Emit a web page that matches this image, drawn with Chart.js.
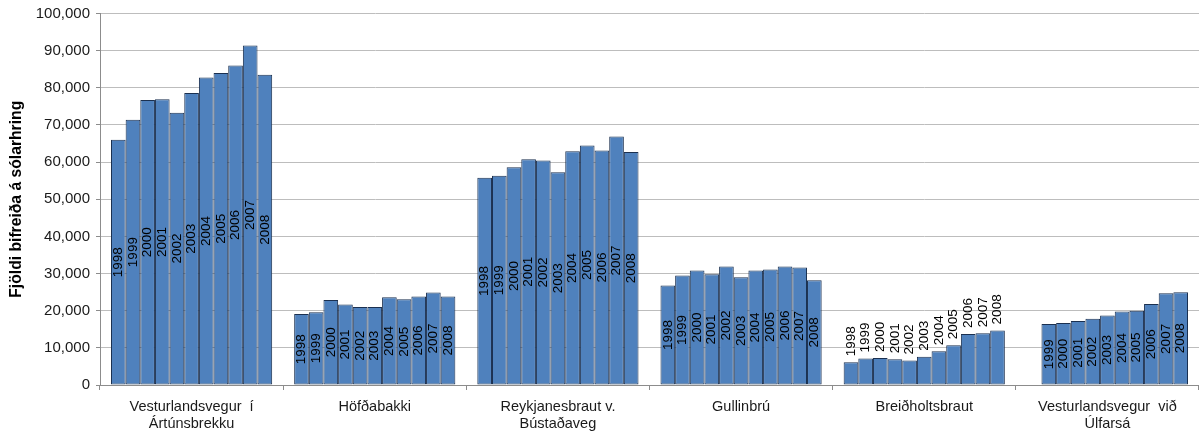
<!DOCTYPE html>
<html>
<head>
<meta charset="utf-8">
<script src="https://cdn.jsdelivr.net/npm/chart.js@4/dist/chart.umd.min.js"></script>
<style>
  html, body { margin: 0; padding: 0; background: #ffffff; }
  #wrap { width: 1199px; height: 432px; }
</style>
</head>
<body>
<div id="wrap"><canvas id="chart" width="1199" height="432"></canvas></div>
<script>
// Talningarstaðir (flokkar á x-ás)
const locations = [
  ['Vesturlandsvegur  í', 'Ártúnsbrekku'],
  'Höfðabakki',
  ['Reykjanesbraut v.', 'Bústaðaveg'],
  'Gullinbrú',
  'Breiðholtsbraut',
  ['Vesturlandsvegur  við', 'Úlfarsá']
];

const years = ['1998', '1999', '2000', '2001', '2002', '2003', '2004', '2005', '2006', '2007', '2008'];

// Fjöldi bifreiða á sólarhring, eitt gildi á ári (1998–2008)
const vesturlandsvegurArtunsbrekku = [66000, 71400, 76700, 76900, 73300, 78600, 82800, 84000, 86000, 91400, 83500];
const hofdabakki                   = [19100, 19600, 22900, 21700, 21000, 21000, 23600, 23100, 23800, 24900, 23800];
const reykjanesbraut               = [55800, 56300, 58600, 60800, 60400, 57300, 62900, 64500, 63100, 66900, 62700];
const gullinbru                    = [26800, 29500, 30800, 29800, 31900, 29000, 30800, 31100, 31900, 31600, 28200];
const breidholtsbraut              = [6100, 7100, 7300, 6900, 6600, 7600, 9100, 10700, 13700, 13900, 14700];
const vesturlandsvegurUlfarsa      = [null, 16400, 16700, 17200, 17800, 18700, 19800, 20000, 21800, 24700, 25000];

const seriesByLocation = [
  vesturlandsvegurArtunsbrekku, hofdabakki, reykjanesbraut,
  gullinbru, breidholtsbraut, vesturlandsvegurUlfarsa
];

// y-ás: 0 til 100.000 í 10.000 skrefum
const yMin = 0;
const yMax = 100000;
const yStep = 10000;

// Staðir þar sem ártal er skrifað ofan við súluna í stað inni í henni
const labelsAboveBars = ['Breiðholtsbraut'];

const FONT = "'Liberation Sans', Arial, sans-serif";

// Ein gagnaröð á ári; hver röð hefur eitt gildi fyrir hvern stað
const datasets = years.map((year, yi) => ({
  label: year,
  data: seriesByLocation.map(s => s[yi]),
  backgroundColor: '#4f81bd',
  borderColor: '#1b3050',
  borderWidth: 1,
  borderSkipped: false,
  categoryPercentage: 0.88,
  barPercentage: 1.0
}));

// Ártöl sem lóðréttur texti á súlunum
const yearLabelPlugin = {
  id: 'yearLabels',
  afterDatasetsDraw(chart) {
    const ctx = chart.ctx;
    ctx.save();
    ctx.font = '13.5px ' + FONT;
    ctx.fillStyle = '#000000';
    chart.data.datasets.forEach((ds, di) => {
      const meta = chart.getDatasetMeta(di);
      meta.data.forEach((bar, ci) => {
        const v = ds.data[ci];
        if (v === null || v === undefined) return;
        const loc = chart.data.labels[ci];
        const name = Array.isArray(loc) ? loc.join(' ') : loc;
        ctx.save();
        if (labelsAboveBars.includes(name)) {
          ctx.translate(bar.x, bar.y - 6);
          ctx.rotate(-Math.PI / 2);
          ctx.textAlign = 'left';
        } else {
          ctx.translate(bar.x, (bar.y + bar.base) / 2);
          ctx.rotate(-Math.PI / 2);
          ctx.textAlign = 'center';
        }
        ctx.textBaseline = 'middle';
        ctx.fillText(ds.label, 0, 0);
        ctx.restore();
      });
    });
    ctx.restore();
  }
};

new Chart(document.getElementById('chart'), {
  type: 'bar',
  data: { labels: locations, datasets: datasets },
  options: {
    responsive: false,
    animation: false,
    devicePixelRatio: 1,
    layout: { padding: { top: 3, right: 0, bottom: 0, left: 0 } },
    plugins: {
      legend: { display: false },
      tooltip: { enabled: false },
      title: { display: false }
    },
    scales: {
      x: {
        afterFit(scale) { scale.height = 47; },
        grid: {
          offset: true,
          drawOnChartArea: false,
          drawTicks: true,
          tickLength: 5,
          color: '#8c8c8c'
        },
        border: { color: '#8c8c8c', width: 1 },
        ticks: {
          maxRotation: 0,
          autoSkip: false,
          padding: 8,
          color: '#1a1a1a',
          font: { family: FONT, size: 14.5, lineHeight: 1.2 }
        }
      },
      y: {
        min: yMin,
        max: yMax,
        afterFit(scale) { scale.width = 100; },
        grid: {
          color: '#bdbdbd',
          lineWidth: 1,
          drawTicks: true,
          tickLength: 4,
          tickColor: '#8c8c8c'
        },
        border: { color: '#8c8c8c', width: 1 },
        ticks: {
          stepSize: yStep,
          padding: 6,
          color: '#1a1a1a',
          font: { family: FONT, size: 15, lineHeight: 1.0 },
          callback: v => v.toLocaleString('en-US')
        },
        title: {
          display: true,
          text: 'Fjöldi bifreiða á sólarhring',
          color: '#000000',
          padding: { top: 7, bottom: 0 },
          font: { family: FONT, size: 15.7, weight: 'bold', lineHeight: 1.2 }
        }
      }
    }
  },
  plugins: [yearLabelPlugin]
});
</script>
</body>
</html>
